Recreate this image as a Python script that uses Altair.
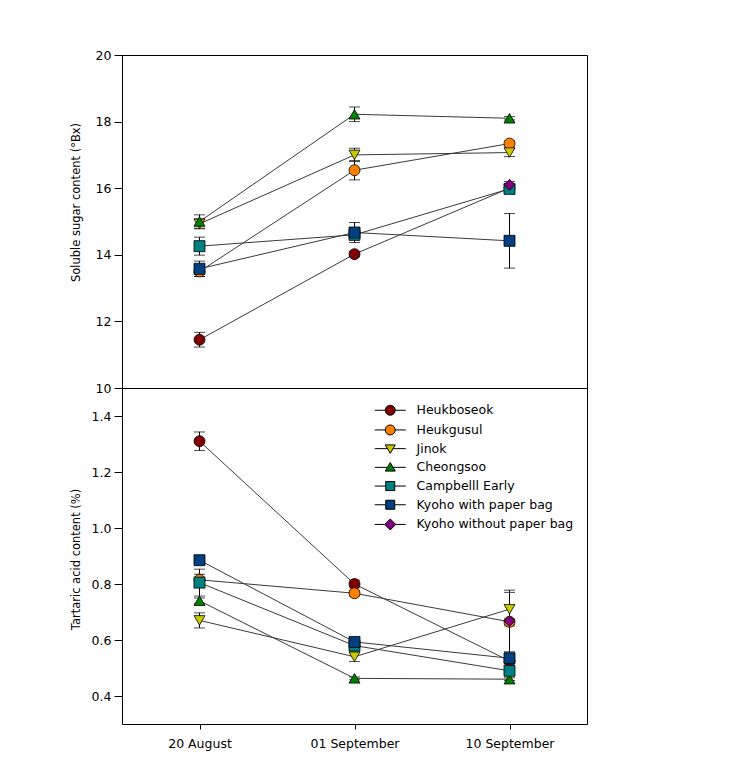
import altair as alt
import pandas as pd

dates = ["20 August", "01 September", "10 September"]
series = ["Heukboseok", "Heukgusul", "Jinok", "Cheongsoo", "Campbelll Early",
          "Kyoho with paper bag", "Kyoho without paper bag"]

# Soluble sugar content (°Bx) and error
sugar_heukboseok = [11.45, 14.02, 16.0]
sugar_heukgusul = [13.5, 16.54, 17.34]
sugar_jinok = [14.93, 17.0, 17.07]
sugar_cheongsoo = [15.0, 18.22, 18.1]
sugar_campbell = [14.26, 14.6, 15.98]
sugar_kyoho_bag = [13.58, 14.67, 14.42]
sugar_kyoho_nobag = [None, None, 16.1]

sugar_err_heukboseok = [0.22, 0.08, 0.08]
sugar_err_heukgusul = [0.15, 0.29, 0.08]
sugar_err_jinok = [0.15, 0.2, 0.12]
sugar_err_cheongsoo = [0.2, 0.22, 0.05]
sugar_err_campbell = [0.27, 0.15, 0.14]
sugar_err_kyoho_bag = [0.23, 0.3, 0.82]
sugar_err_kyoho_nobag = [None, None, 0.1]

# Tartaric acid content (%) and error
acid_heukboseok = [1.31, 0.80, 0.525]
acid_heukgusul = [0.815, 0.767, 0.665]
acid_jinok = [0.67, 0.54, 0.71]
acid_cheongsoo = [0.74, 0.463, 0.46]
acid_campbell = [0.805, 0.58, 0.49]
acid_kyoho_bag = [0.885, 0.593, 0.535]
acid_kyoho_nobag = [None, None, 0.668]

acid_err_heukboseok = [0.033, 0.014, 0.01]
acid_err_heukgusul = [0.02, 0.01, 0.01]
acid_err_jinok = [0.027, 0.017, 0.06]
acid_err_cheongsoo = [0.01, 0.005, 0.005]
acid_err_campbell = [0.048, 0.01, 0.016]
acid_err_kyoho_bag = [0.015, 0.01, 0.012]
acid_err_kyoho_nobag = [None, None, 0.11]

sugar_all = [sugar_heukboseok, sugar_heukgusul, sugar_jinok, sugar_cheongsoo,
             sugar_campbell, sugar_kyoho_bag, sugar_kyoho_nobag]
sugar_err_all = [sugar_err_heukboseok, sugar_err_heukgusul, sugar_err_jinok,
                 sugar_err_cheongsoo, sugar_err_campbell, sugar_err_kyoho_bag,
                 sugar_err_kyoho_nobag]
acid_all = [acid_heukboseok, acid_heukgusul, acid_jinok, acid_cheongsoo,
            acid_campbell, acid_kyoho_bag, acid_kyoho_nobag]
acid_err_all = [acid_err_heukboseok, acid_err_heukgusul, acid_err_jinok,
                acid_err_cheongsoo, acid_err_campbell, acid_err_kyoho_bag,
                acid_err_kyoho_nobag]

# styles
colors = ["#800000", "#FF8000", "#C8C800", "#008000", "#008080", "#004080", "#800080"]
outline = ["black"] * 7
shapes = ["circle", "circle", "triangle-down", "triangle-up", "square", "square", "diamond"]
legend_paths = [
    "M-3.1,0H-1M1,0H3.1M-1,0A1,1 0 1,0 1,0A1,1 0 1,0 -1,0Z",
    "M-3.1,0H-1M1,0H3.1M-1,0A1,1 0 1,0 1,0A1,1 0 1,0 -1,0Z",
    "M-3.1,0H-0.56M0.56,0H3.1M-1,-0.75L1,-0.75L0,0.95Z",
    "M-3.1,0H-0.56M0.56,0H3.1M0,-0.95L1,0.75L-1,0.75Z",
    "M-3.1,0H-0.9M0.9,0H3.1M-0.9,-0.9H0.9V0.9H-0.9Z",
    "M-3.1,0H-0.9M0.9,0H3.1M-0.9,-0.9H0.9V0.9H-0.9Z",
    "M-3.1,0H-1.1M1.1,0H3.1M0,-1.1L1.1,0L0,1.1L-1.1,0Z",
]

FONT = "DejaVu Sans"

rows = []
for i, s in enumerate(series):
    for j, d in enumerate(dates):
        rows.append({
            "series": s, "date": d,
            "sugar": sugar_all[i][j], "sugar_err": sugar_err_all[i][j],
            "acid": acid_all[i][j], "acid_err": acid_err_all[i][j],
        })
df = pd.DataFrame(rows)


def panel(field, err, domain, ticks, fmt, title, show_x, title_y):
    base = alt.Chart(df).transform_filter(f"isValid(datum.{field})").transform_calculate(
        lo=f"datum.{field} - datum.{err}", hi=f"datum.{field} + datum.{err}"
    )
    if show_x:
        x = alt.X("date:N", sort=dates, scale=alt.Scale(type="point", padding=0.5), title=None,
                  axis=alt.Axis(tickSize=5, labelPadding=8, labelAngle=0, domain=False,
                                labelFontSize=12.5))
    else:
        x = alt.X("date:N", sort=dates, scale=alt.Scale(type="point", padding=0.5), axis=None)
    yaxis = alt.Axis(values=ticks, format=fmt, title=title, tickSize=8, labelPadding=3,
                     domain=False, titleX=-46, titleY=title_y, titleBaseline="middle",
                     titleAngle=-90, titleFontSize=11.5, labelFontSize=12.5, grid=False)
    ysc = alt.Scale(domain=domain, nice=False, zero=False)
    y = alt.Y(f"{field}:Q", scale=ysc, axis=yaxis)
    lines = base.mark_line(color="#3a3a3a", strokeWidth=1).encode(x=x, y=y, detail="series:N")
    rule = base.mark_rule(color="black", strokeWidth=1).encode(
        x=x, y=alt.Y("lo:Q", scale=ysc, axis=yaxis), y2="hi:Q")
    cap_lo = base.mark_tick(color="black", size=11, thickness=1).encode(
        x=x, y=alt.Y("lo:Q", scale=ysc, axis=yaxis))
    cap_hi = base.mark_tick(color="black", size=11, thickness=1).encode(
        x=x, y=alt.Y("hi:Q", scale=ysc, axis=yaxis))
    points = base.mark_point(filled=True, size=121, strokeWidth=0.8, opacity=1).encode(
        x=x, y=y,
        shape=alt.Shape("series:N", scale=alt.Scale(domain=series, range=shapes), legend=None),
        fill=alt.Fill("series:N", scale=alt.Scale(domain=series, range=colors), legend=None),
        stroke=alt.value("black"),
    )
    return [lines, rule, cap_lo, cap_hi, points]


top_layers = panel("sugar", "sugar_err", [10, 20], [10, 12, 14, 16, 18, 20], "d",
                   "Soluble sugar content (°Bx)", False, 147)
bottom_layers = panel("acid", "acid_err", [0.3, 1.5], [0.4, 0.6, 0.8, 1.0, 1.2, 1.4], ".1f",
                      "Tartaric acid content (%)", True, 171)

legend_df = pd.DataFrame({"lg": series})
leg = alt.Legend(orient="none", legendX=262, legendY=16, title=None, symbolSize=100,
                 symbolStrokeWidth=1, labelOffset=20,
                 labelFontSize=12.5, labelFont=FONT, labelColor="black", labelLimit=400,
                 rowPadding=4.7, padding=0)
legend_layer = alt.Chart(legend_df).mark_point(filled=True, size=0, strokeWidth=1,
                                               opacity=1).encode(
    fill=alt.Fill("lg:N", scale=alt.Scale(domain=series, range=colors), legend=leg),
    shape=alt.Shape("lg:N", scale=alt.Scale(domain=series, range=legend_paths), legend=leg),
    stroke=alt.Stroke("lg:N", scale=alt.Scale(domain=series, range=outline), legend=leg),
)

top = alt.layer(*top_layers).properties(width=465, height=333)
bottom = alt.layer(*bottom_layers, legend_layer).resolve_scale(
    fill="independent", shape="independent", stroke="independent"
).properties(width=465, height=336)

chart = alt.vconcat(top, bottom, spacing=0, bounds="flush").resolve_scale(
    fill="independent", shape="independent", stroke="independent"
).resolve_legend(fill="independent", shape="independent", stroke="independent").properties(
    padding={"left": 61, "top": 40, "right": 10, "bottom": 10}
).configure_view(stroke="black", strokeWidth=1).configure_axis(
    labelFont=FONT, titleFont=FONT, labelColor="black", titleColor="black",
    tickColor="black", tickWidth=1, titleFontWeight="normal", domainColor="black"
)

chart.save("out.html", embed_options={"renderer": "svg", "actions": False})
